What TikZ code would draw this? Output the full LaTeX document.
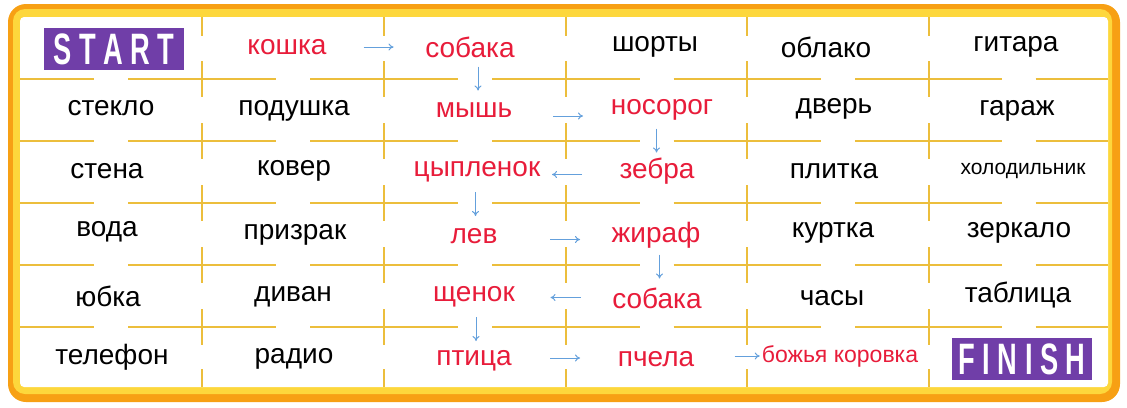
\documentclass[tikz,border=0pt]{standalone}
\usepackage{fontspec}
\setmainfont{Liberation Sans}
\usetikzlibrary{calc,arrows.meta}
\definecolor{frameO}{RGB}{247,160,20}
\definecolor{frameY}{RGB}{253,215,60}
\definecolor{gridY}{RGB}{236,190,60}
\definecolor{wred}{RGB}{232,28,58}
\definecolor{arrB}{RGB}{100,160,220}
\definecolor{purp}{RGB}{112,62,168}
\tikzset{
 x=1pt,y=-1pt,
 word/.style={font=\fontsize{28}{32}\selectfont,text=black,inner sep=1pt},
 red/.style={word,text=wred},
 arr/.style={draw=arrB,line width=1pt,-{To[length=5pt,width=7pt]}},
 badge/.style={fill=purp,text=white,font=\bfseries\fontsize{44}{44}\selectfont,inner sep=0pt,minimum height=42,minimum width=140},
 gline/.style={draw=gridY,line width=2pt}
}
\begin{document}
\begin{tikzpicture}
\useasboundingbox (0,0) rectangle (1127,407);
\fill[frameO,rounded corners=18] (8,4) rectangle (1120,402);
\fill[frameY,rounded corners=12] (13,9) rectangle (1112,394);
\fill[white,rounded corners=4] (20,17) rectangle (1108,387);
% grid
\foreach \y in {79,141,203,265,327}
  \foreach \a/\b in {20/202,202/384,384/566,566/747,747/929,929/1108}{
    \draw[gline] (\a,\y) -- ({(\a+\b)/2-17},\y);
    \draw[gline] ({(\a+\b)/2+17},\y) -- (\b,\y);
  }
\foreach \x in {202,384,566,747,929}{
  \draw[gline] (\x,17) -- (\x,36);
  \foreach \y in {79,141,203,265,327} \draw[gline] (\x,\y-18) -- (\x,\y+18);
  \draw[gline] (\x,369) -- (\x,387);
}
% row 1
\node[badge] (start) at (114,49) {\scalebox{0.62}[1]{S T A R T}};
\node[red] (r1c2) at (287,47) {кошка};
\node[red] (r1c3) at (470,47) {собака};
\node[word] (r1c4) at (655,47) {шорты};
\node[word] (r1c5) at (826,47) {облако};
\node[word] (r1c6) at (1016,47) {гитара};
% row 2
\node[word] (r2c1) at (111,108) {стекло};
\node[word] (r2c2) at (294,111) {подушка};
\node[red] (r2c3) at (474,110) {мышь};
\node[red] (r2c4) at (662,110) {носорог};
\node[word] (r2c5) at (834,109) {дверь};
\node[word] (r2c6) at (1017,111) {гараж};
% row 3
\node[word] (r3c1) at (107,171) {стена};
\node[word] (r3c2) at (294,171) {ковер};
\node[red] (r3c3) at (477,172) {цыпленок};
\node[red] (r3c4) at (657,171) {зебра};
\node[word] (r3c5) at (834,171) {плитка};
\node[word,font=\fontsize{21}{24}\selectfont] (r3c6) at (1023,171) {холодильник};
% row 4
\node[word] (r4c1) at (107,232) {вода};
\node[word] (r4c2) at (295,235) {призрак};
\node[red] (r4c3) at (474,236) {лев};
\node[red] (r4c4) at (656,235) {жираф};
\node[word] (r4c5) at (833,233) {куртка};
\node[word] (r4c6) at (1019,233) {зеркало};
% row 5
\node[word] (r5c1) at (108,296) {юбка};
\node[word] (r5c2) at (293,297) {диван};
\node[red] (r5c3) at (474,297) {щенок};
\node[red] (r5c4) at (657,298) {собака};
\node[word] (r5c5) at (832,298) {часы};
\node[word] (r5c6) at (1018,295) {таблица};
% row 6
\node[word] (r6c1) at (112,357) {телефон};
\node[word] (r6c2) at (294,359) {радио};
\node[red] (r6c3) at (474,361) {птица};
\node[red] (r6c4) at (656,359) {пчела};
\node[red,font=\fontsize{23}{26}\selectfont] (r6c5) at (840,356) {божья коровка};
\node[badge] (finish) at (1022,359) {\scalebox{0.62}[1]{F I N I S H}};
% arrows
\draw[arr] ($(r1c2)!0.5!(r1c3)+(-15,0)$) -- ($(r1c2)!0.5!(r1c3)+(15,0)$);
\draw[arr] ($(r1c3)!0.5!(r2c3)+(6,-12)$) -- ($(r1c3)!0.5!(r2c3)+(6,12)$);
\draw[arr] ($(r2c3)!0.5!(r2c4)+(-15,6)$) -- ($(r2c3)!0.5!(r2c4)+(15,6)$);
\draw[arr] ($(r2c4)!0.5!(r3c4)+(-3,-12)$) -- ($(r2c4)!0.5!(r3c4)+(-3,12)$);
\draw[arr] ($(r3c4)!0.5!(r3c3)+(15,3)$) -- ($(r3c4)!0.5!(r3c3)+(-15,3)$);
\draw[arr] ($(r3c3)!0.5!(r4c3)+(0,-12)$) -- ($(r3c3)!0.5!(r4c3)+(0,12)$);
\draw[arr] ($(r4c3)!0.5!(r4c4)+(-15,4)$) -- ($(r4c3)!0.5!(r4c4)+(15,4)$);
\draw[arr] ($(r4c4)!0.5!(r5c4)+(3,-12)$) -- ($(r4c4)!0.5!(r5c4)+(3,12)$);
\draw[arr] ($(r5c4)!0.5!(r5c3)+(15,0)$) -- ($(r5c4)!0.5!(r5c3)+(-15,0)$);
\draw[arr] ($(r5c3)!0.5!(r6c3)+(2,-12)$) -- ($(r5c3)!0.5!(r6c3)+(2,12)$);
\draw[arr] ($(r6c3)!0.5!(r6c4)+(-15,-2)$) -- ($(r6c3)!0.5!(r6c4)+(15,-2)$);
\draw[arr] ($(r6c5.west)+(-26,0)$) -- ($(r6c5.west)+(-1,0)$);
\end{tikzpicture}
\end{document}
